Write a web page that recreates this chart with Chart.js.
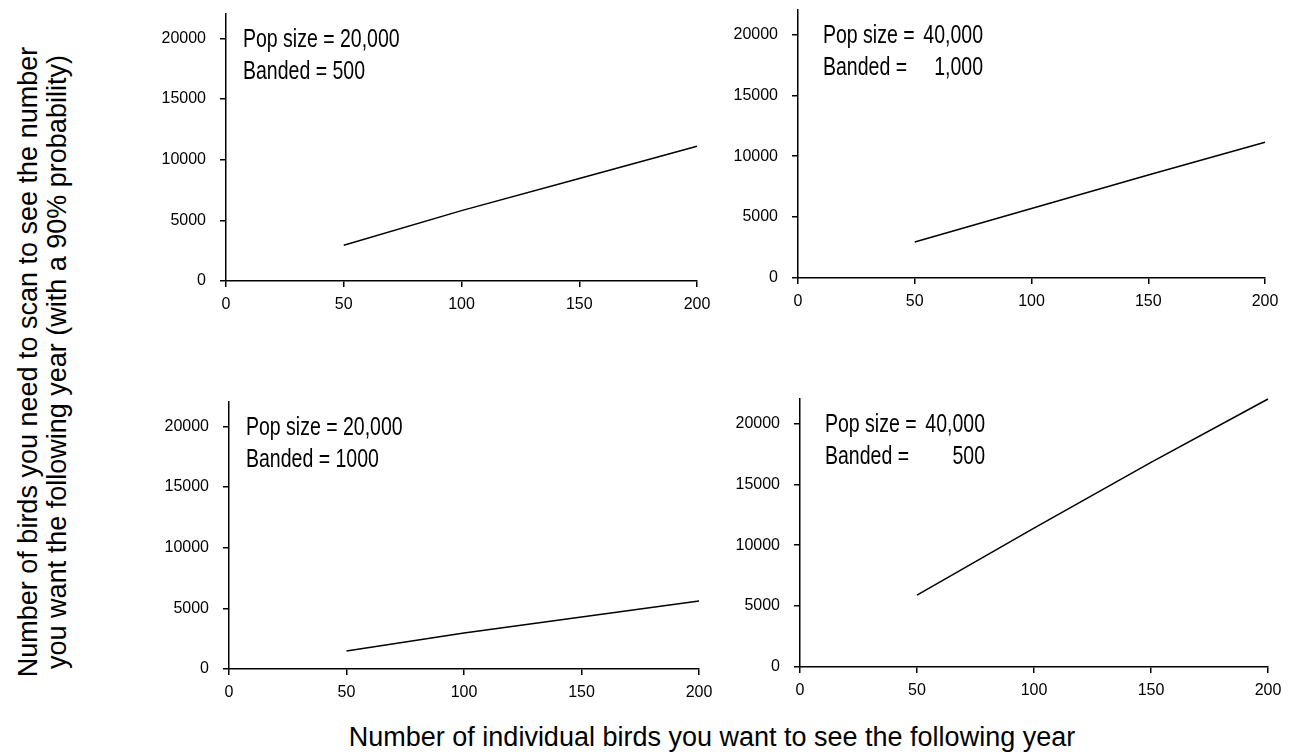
<!DOCTYPE html>
<html>
<head>
<meta charset="utf-8">
<script src="https://cdn.jsdelivr.net/npm/chart.js@4.4.1/dist/chart.umd.min.js"></script>
<style>
  body { margin: 0; background: #fff; }
  #wrap { position: relative; width: 1303px; height: 755px; overflow: hidden; background: #fff; }
  #wrap canvas { position: absolute; }
  .title { position: absolute; font-family: "Liberation Sans", Arial, sans-serif; color: #000; text-align: center; white-space: nowrap; }
  #ytitle { width: 760px; height: 58px; line-height: 29px; font-size: 27px; left: -337px; top: 333px; transform: rotate(-90deg); }
  #xtitle { width: 900px; line-height: 30px; font-size: 27px; left: 262px; top: 722px; }
</style>
</head>
<body>
<div id="wrap">
  <div class="title" id="ytitle">Number of birds you need to scan to see the number<br>you want the following year (with a 90% probability)</div>
  <div class="title" id="xtitle">Number of individual birds you want to see the following year</div>
</div>
<script>
// data
const birdsWanted = [50, 100, 150, 200];
const scan20k500 = [2950, 5800, 8450, 11100];
const scan40k1000 = [2950, 5700, 8450, 11150];
const scan20k1000 = [1480, 2960, 4280, 5600];
const scan40k500 = [5900, 11400, 16800, 22000];

const xTicks = [0, 50, 100, 150, 200];
const yTicks = [0, 5000, 10000, 15000, 20000];
const yMax = 22000;

const popLabels = ['20,000', '40,000', '20,000', '40,000'];
const bandedLabels = ['500', '1,000', '1000', '500'];

// panel frames in page pixels: axis left/right, y of 0 and y of yMax
const panels = [
  { series: scan20k500, xL: 226, xR: 697, y0: 281, yTop: 14, note: 0, padNum: false },
  { series: scan40k1000, xL: 798, xR: 1265, y0: 278, yTop: 10, note: 1, padNum: true },
  { series: scan20k1000, xL: 229, xR: 699, y0: 669, yTop: 402, note: 2, padNum: false },
  { series: scan40k500, xL: 800, xR: 1268, y0: 667, yTop: 399, note: 3, padNum: true }
];

// no narrow font installed, so squeeze the regular one
const noteFont = '25px "Liberation Sans", Arial, sans-serif';
const squeeze = 0.78;

function narrowText(ctx, text, x, y, align) {
  ctx.save();
  ctx.translate(x, y);
  ctx.scale(squeeze, 1);
  ctx.textAlign = align;
  ctx.fillText(text, 0, 0);
  ctx.restore();
}

const notePlugin = {
  id: 'panelNote',
  afterDraw(chart, args, opts) {
    const ctx = chart.ctx;
    const left = chart.chartArea.left;
    const y20 = chart.scales.y.getPixelForValue(20000);
    ctx.save();
    ctx.fillStyle = '#000';
    ctx.font = noteFont;
    ctx.textBaseline = 'alphabetic';
    const pop = popLabels[opts.idx];
    const banded = bandedLabels[opts.idx];
    if (opts.padNum) {
      narrowText(ctx, 'Pop size =', left + 25, y20 + 9, 'left');
      narrowText(ctx, 'Banded =', left + 25, y20 + 41, 'left');
      narrowText(ctx, pop, left + 185, y20 + 9, 'right');
      narrowText(ctx, banded, left + 185, y20 + 41, 'right');
    } else {
      narrowText(ctx, 'Pop size = ' + pop, left + 17, y20 + 9, 'left');
      narrowText(ctx, 'Banded = ' + banded, left + 17, y20 + 41, 'left');
    }
    ctx.restore();
  }
};

const wrap = document.getElementById('wrap');
const padTop = 26, padRight = 25, yAxisW = 80, xAxisH = 40;
const tickFont = { family: '"Liberation Sans", Arial, sans-serif', size: 16 };

panels.forEach(p => {
  const c = document.createElement('canvas');
  const w = p.xR - p.xL + yAxisW + padRight;
  const h = p.y0 - p.yTop + padTop + xAxisH;
  c.width = w;
  c.height = h;
  c.style.left = (p.xL - yAxisW) + 'px';
  c.style.top = (p.yTop - padTop) + 'px';
  c.style.width = w + 'px';
  c.style.height = h + 'px';
  wrap.appendChild(c);

  new Chart(c.getContext('2d'), {
    type: 'line',
    data: {
      datasets: [{
        data: birdsWanted.map((x, i) => ({ x: x, y: p.series[i] })),
        borderColor: '#000',
        borderWidth: 1.5,
        pointRadius: 0,
        tension: 0,
        fill: false,
        clip: false
      }]
    },
    options: {
      responsive: false,
      animation: false,
      devicePixelRatio: 1,
      layout: { padding: { top: padTop, right: padRight, left: 0, bottom: 0 } },
      plugins: {
        legend: { display: false },
        tooltip: { enabled: false },
        panelNote: { idx: p.note, padNum: p.padNum }
      },
      scales: {
        x: {
          type: 'linear',
          min: 0,
          max: 200,
          afterBuildTicks: s => { s.ticks = xTicks.map(v => ({ value: v })); },
          afterFit: s => { s.height = xAxisH; },
          border: { display: true, color: '#000', width: 1.5 },
          grid: { drawOnChartArea: false, drawTicks: true, tickLength: 6, color: '#000', lineWidth: 1.5 },
          ticks: { color: '#000', padding: 8, maxRotation: 0, font: tickFont, callback: v => String(v) }
        },
        y: {
          type: 'linear',
          min: 0,
          max: yMax,
          afterBuildTicks: s => { s.ticks = yTicks.map(v => ({ value: v })); },
          afterFit: s => { s.width = yAxisW; },
          border: { display: true, color: '#000', width: 1.5 },
          grid: { drawOnChartArea: false, drawTicks: true, tickLength: 6, color: '#000', lineWidth: 1.5 },
          ticks: { color: '#000', padding: 14, font: tickFont, callback: v => String(v) }
        }
      }
    },
    plugins: [notePlugin]
  });
});
</script>
</body>
</html>
